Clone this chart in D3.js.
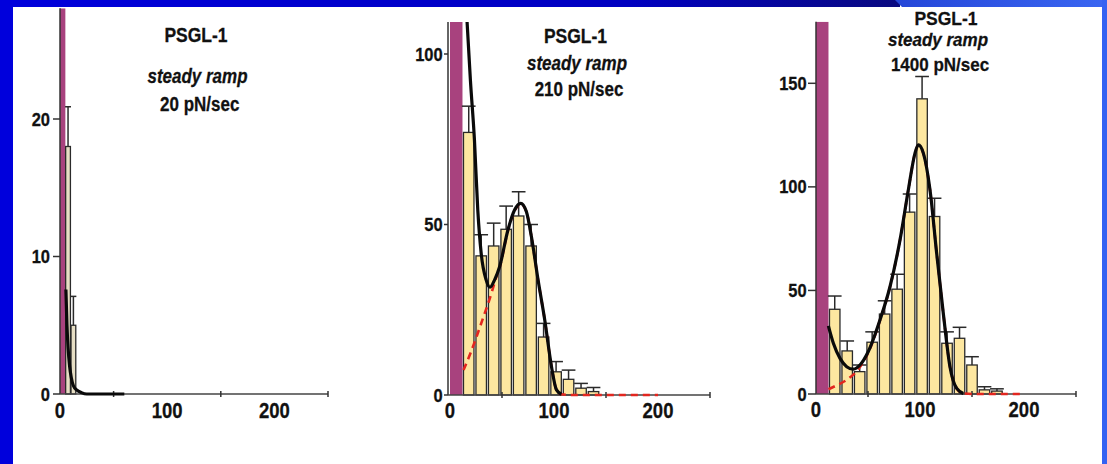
<!DOCTYPE html>
<html><head><meta charset="utf-8">
<script src="https://cdn.jsdelivr.net/npm/d3@7"></script>
<style>html,body{margin:0;padding:0;background:#fff;overflow:hidden}</style>
</head><body><svg id="c" width="1107" height="464"></svg>
<script>
// ---------------- DATA ----------------
const titles = ["PSGL-1", "PSGL-1", "PSGL-1"];
const subtitles = ["steady ramp", "steady ramp", "steady ramp"];
const rates = ["20 pN/sec", "210 pN/sec", "1400 pN/sec"];
const xTickLabels = [0, 100, 200];
const xMinorTicks = [50, 150, 250];

// Panel 1 (20 pN/sec)
const p1YTicks = [0, 10, 20];
const p1BinStarts = [5, 10];
const p1BinWidth = 5;
const p1Values = [18, 5];
const p1ErrTop = [20.9, 7.1];
const p1OffscaleBin = [0, 5];
const p1FitX = [5.5, 6.5, 7.5, 9, 10.5, 12.5, 15.5, 20, 25, 60];
const p1FitY = [7.6, 5, 3.4, 2, 1.2, 0.6, 0.3, 0.1, 0, 0];

// Panel 2 (210 pN/sec)
const p2YTicks = [0, 50, 100];
const p2BinStarts = [12, 24, 36, 48, 60, 72, 84, 96, 108, 120, 132];
const p2BinWidth = 12;
const p2Values = [77, 40.8, 43.7, 48.6, 52.5, 43.7, 17, 6.8, 4.6, 2, 1];
const p2ErrTop = [84.7, 47, 50.4, 55.4, 59.6, 50, 21, 9.8, 7.3, 3.4, 2.2];
const p2OffscaleBin = [0, 12];
const p2FitX = [16.4, 19.6, 23.5, 26.7, 30, 34.8, 38.5, 42.8, 47.7, 55.7, 62.2, 68, 73.4, 78.3, 84.7, 91.1, 97.6, 102.4, 107.2];
const p2FitY = [109.5, 92.4, 74.8, 54.3, 41.5, 33.7, 31.6, 33.7, 37.6, 48.4, 54.3, 56.2, 53.8, 46.4, 33.7, 22, 8.3, 1.5, 0.2];
const p2PeakX = [13, 20, 30, 40, 44.4, 47.7, 55.7, 62.2, 68, 73.4, 78.3, 84.7, 91.1, 97.6, 102.4, 107.2, 120, 200];
const p2PeakY = [7.3, 12.5, 21, 30, 34.5, 37.4, 48.2, 54.1, 56, 53.8, 46.4, 33.7, 22, 8.3, 1.5, 0.2, 0, 0];

// Panel 3 (1400 pN/sec)
const p3YTicks = [0, 50, 100, 150];
const p3BinStarts = [12, 24, 36, 48, 60, 72, 84, 96, 108, 120, 132, 144, 156, 168];
const p3BinWidth = 12;
const p3Values = [40.9, 20.8, 10.8, 25, 38.6, 50.6, 87.8, 142.5, 85.7, 24.5, 26.9, 14, 2, 1.4];
const p3ErrTop = [47.3, 25.6, 14, 30, 45, 57.8, 96.5, 153.3, 94.5, 30, 32.2, 18, 3.5, 2.5];
const p3OffscaleBin = [0, 12];
const p3FitX = [11.9, 16.7, 23.1, 29.5, 35.9, 42.3, 50.3, 61.5, 71.2, 80.8, 88.8, 95.2, 98.4, 103.2, 109.6, 116, 122.4, 128.8, 135.3, 141.7];
const p3FitY = [32.9, 24.5, 17.2, 13.2, 12, 14, 20.5, 35.7, 51.9, 74.4, 98.6, 116.3, 120.3, 116.3, 98.6, 68, 39, 13.2, 2.7, 0.3];
const p3PeakX = [12, 20, 30, 40, 50.3, 61.5, 71.2, 80.8, 88.8, 95.2, 98.4, 103.2, 109.6, 116, 122.4, 128.8, 135.3, 141.7, 150, 200];
const p3PeakY = [2.3, 4.2, 7, 11.5, 20, 35.5, 51.8, 74.3, 98.5, 116.2, 120.2, 116.2, 98.5, 68, 39, 13.2, 2.7, 0.3, 0, 0];

// ---------------- LAYOUT ----------------
const svg = d3.select("#c");
const W = 1107, H = 464;

const defs = svg.append("defs");
const g1 = defs.append("linearGradient").attr("id", "topdark").attr("x1", 0).attr("x2", 1).attr("y1", 0).attr("y2", 0);
g1.append("stop").attr("offset", "0%").attr("stop-color", "#0000DC");
g1.append("stop").attr("offset", "70%").attr("stop-color", "#0000C0");
g1.append("stop").attr("offset", "100%").attr("stop-color", "#0A0A80");
const g2 = defs.append("linearGradient").attr("id", "toplight").attr("x1", 0).attr("x2", 1).attr("y1", 0).attr("y2", 0);
g2.append("stop").attr("offset", "0%").attr("stop-color", "#2446D8");
g2.append("stop").attr("offset", "100%").attr("stop-color", "#3A66F2");

svg.append("rect").attr("x", 0).attr("y", 0).attr("width", W).attr("height", H).attr("fill", "#fff");
svg.append("rect").attr("x", 0).attr("y", 0).attr("width", 900).attr("height", 7).attr("fill", "url(#topdark)");
svg.append("polygon").attr("points", "895,0 1107,0 1107,7 902,7").attr("fill", "url(#toplight)");
svg.append("rect").attr("x", 0).attr("y", 0).attr("width", 13).attr("height", H).attr("fill", "#0000DC");
svg.append("rect").attr("x", 1102).attr("y", 0).attr("width", 5).attr("height", H).attr("fill", "#3462F2");

const FONT = "'Liberation Sans', Arial, Helvetica, sans-serif";
const STRETCH = 1.15;

function txt(g, x, y, s, opts) {
  return g.append("text")
    .attr("transform", `translate(${x},${y}) scale(1,${opts.stretch || STRETCH})`)
    .attr("text-anchor", opts.anchor || "middle")
    .attr("font-family", FONT)
    .attr("font-weight", "bold")
    .attr("font-style", opts.italic ? "italic" : "normal")
    .attr("font-size", opts.size)
    .attr("fill", "#111")
    .attr("stroke", "#111")
    .attr("stroke-width", 0.25)
    .text(s);
}

const panels = [
  { xr: [60, 328], yd: [0, 20], yr: [394, 119], yTop: 8.3, axisX: 60, tickL: 7, labRight: 50,
    yTicks: p1YTicks, starts: p1BinStarts, bw: p1BinWidth, vals: p1Values, err: p1ErrTop, off: p1OffscaleBin,
    fitX: p1FitX, fitY: p1FitY, peakX: null, peakY: null, barFill: "#E6DEC4", gap: 0.3,
    tpos: [[196, 41.7], [197.5, 83], [199.7, 110.5]], xLabY: 418 },
  { xr: [450, 710], yd: [0, 100], yr: [395, 54], yTop: 22, axisX: 448, tickL: 4, labRight: 442.7,
    yTicks: p2YTicks, starts: p2BinStarts, bw: p2BinWidth, vals: p2Values, err: p2ErrTop, off: p2OffscaleBin,
    fitX: p2FitX, fitY: p2FitY, peakX: p2PeakX, peakY: p2PeakY, barFill: "#FDE7A0", gap: 1,
    tpos: [[575.5, 42.7], [577, 69.5], [579, 96.3]], xLabY: 418 },
  { xr: [816, 1076], yd: [0, 150], yr: [394, 83.3], yTop: 21.7, axisX: 816, tickL: 8, labRight: 806.7,
    yTicks: p3YTicks, starts: p3BinStarts, bw: p3BinWidth, vals: p3Values, err: p3ErrTop, off: p3OffscaleBin,
    fitX: p3FitX, fitY: p3FitY, peakX: p3PeakX, peakY: p3PeakY, barFill: "#FDE7A0", gap: 1,
    tpos: [[946, 24.5], [938, 45.5], [940, 71]], xLabY: 417, tightTitle: true }
];

panels.forEach((p, i) => {
  const g = svg.append("g");
  const x = d3.scaleLinear().domain([0, 250]).range(p.xr);
  const y = d3.scaleLinear().domain(p.yd).range(p.yr);
  const yMax = y.invert(p.yTop);
  const y0 = y(0);

  const clipId = "clip" + i;
  defs.append("clipPath").attr("id", clipId).append("rect")
    .attr("x", x(0) - 2).attr("y", p.yTop).attr("width", x(250) - x(0) + 4).attr("height", y0 - p.yTop + 4);
  const plot = g.append("g").attr("clip-path", `url(#${clipId})`);

  // off-scale first bin (magenta)
  plot.append("rect")
    .attr("x", x(p.off[0]))
    .attr("y", y(yMax))
    .attr("width", x(p.off[1]) - x(p.off[0]))
    .attr("height", y0 - y(yMax))
    .attr("fill", "#A8427E");

  const line = (xs, ys) => d3.line().x(d => x(d[0])).y(d => y(d[1])).curve(d3.curveMonotoneX)(xs.map((v, k) => [v, ys[k]]));

  // bars
  const bars = p.starts.map((s, k) => ({ s, v: p.vals[k], e: p.err[k] }));
  plot.selectAll(".bar").data(bars).enter().append("rect")
    .attr("x", d => x(d.s) + p.gap)
    .attr("y", d => y(d.v))
    .attr("width", d => x(d.s + p.bw) - x(d.s) - 2 * p.gap)
    .attr("height", d => y0 - y(d.v))
    .attr("fill", p.barFill)
    .attr("stroke", "#2a2a2a")
    .attr("stroke-width", 1.3);

  // error bars
  const capHalf = (x(p.bw) - x(0)) * 0.55;
  bars.forEach(d => {
    const cx = x(d.s + p.bw / 2);
    plot.append("line").attr("x1", cx).attr("x2", cx).attr("y1", y(d.v)).attr("y2", y(d.e))
      .attr("stroke", "#2a2a2a").attr("stroke-width", 1.5);
    plot.append("line").attr("x1", cx - capHalf).attr("x2", cx + capHalf).attr("y1", y(d.e)).attr("y2", y(d.e))
      .attr("stroke", "#2a2a2a").attr("stroke-width", 1.5);
  });

  // axes
  g.append("line").attr("x1", p.axisX).attr("x2", p.axisX).attr("y1", y0).attr("y2", p.yTop)
    .attr("stroke", "#333").attr("stroke-width", 1.5);
  g.append("line").attr("x1", p.axisX).attr("x2", x(250)).attr("y1", y0).attr("y2", y0)
    .attr("stroke", "#444").attr("stroke-width", 1.5);
  xMinorTicks.forEach(t => {
    g.append("line").attr("x1", x(t)).attr("x2", x(t)).attr("y1", y0 - 3).attr("y2", y0 + 3)
      .attr("stroke", "#333").attr("stroke-width", 1.5);
  });
  p.yTicks.forEach(t => {
    g.append("line").attr("x1", p.axisX - p.tickL).attr("x2", p.axisX).attr("y1", y(t)).attr("y2", y(t))
      .attr("stroke", "#333").attr("stroke-width", 1.5);
    txt(g, p.labRight, y(t) + 6.6, String(t), { size: 16.5, anchor: "end" });
  });
  xTickLabels.forEach(t => {
    txt(g, x(t), p.xLabY, String(t), { size: 18.5 });
  });

  // red dashed component, then black fit on top of it
  const curves = g.append("g").attr("clip-path", `url(#${clipId})`);
  if (p.peakX) {
    curves.append("path").attr("d", line(p.peakX, p.peakY)).attr("fill", "none")
      .attr("stroke", "#E3261F").attr("stroke-width", 2.6).attr("stroke-dasharray", "7,5");
  }
  curves.append("path").attr("d", line(p.fitX, p.fitY)).attr("fill", "none")
    .attr("stroke", "#0a0a0a").attr("stroke-width", 3.2).attr("stroke-linejoin", "round");

  // titles
  const st = p.tightTitle ? 1.05 : STRETCH;
  txt(g, p.tpos[0][0], p.tpos[0][1], titles[i], { size: 17.5, stretch: st });
  txt(g, p.tpos[1][0], p.tpos[1][1], subtitles[i], { size: 17, italic: true, stretch: st });
  txt(g, p.tpos[2][0], p.tpos[2][1], rates[i], { size: 17, stretch: st });
});
</script>
</body></html>
